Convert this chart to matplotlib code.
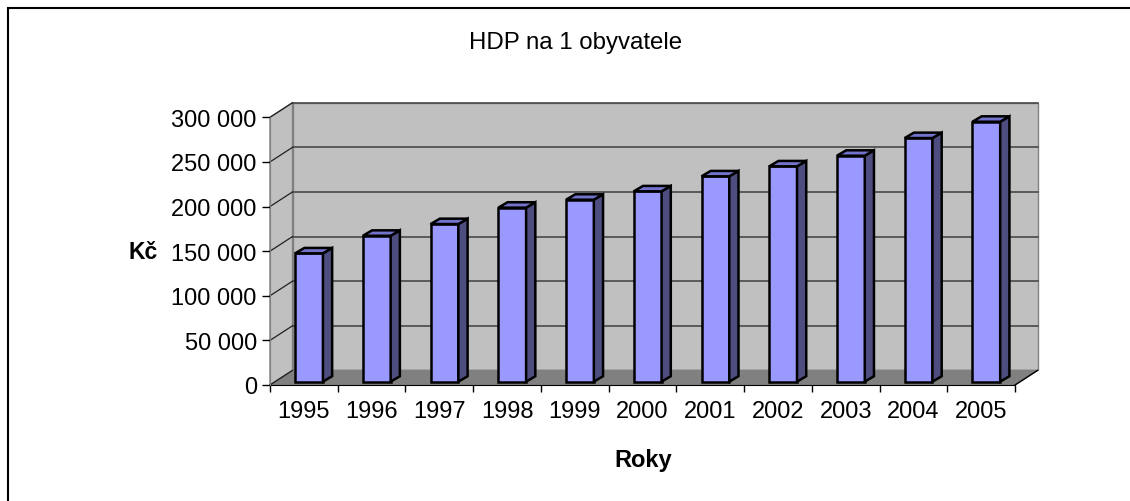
import numpy as np
import matplotlib
matplotlib.use("Agg")
import matplotlib.pyplot as plt
from matplotlib.patches import Polygon, Rectangle

# Data z grafu
roky = ['1995', '1996', '1997', '1998', '1999', '2000', '2001', '2002', '2003', '2004', '2005']
hdp = [143800, 163500, 176600, 195000, 203900, 213300, 230100, 241300, 253200, 273000, 291300]
ymax = 300000
krok = 50000

plt.rcParams['font.family'] = ['Liberation Sans', 'DejaVu Sans']

W, H = 1130, 502
fig = plt.figure(figsize=(W / 100, H / 100), dpi=100)

# prední rovina grafu v pixelech
x0, x1 = 270, 1015
y0, y1 = 386, 118.3
ax = fig.add_axes([x0 / W, (H - y0) / H, (x1 - x0) / W, (y0 - y1) / H])
n = len(roky)
ax.set_xlim(0, n)
ax.set_ylim(0, ymax)
ax.set_facecolor('none')

# hloubka (šikmá projekce) v jednotkach dat
ux = (x1 - x0) / n
uy = (y0 - y1) / ymax
dX = 22.5 / ux
dY = 14.6 / uy

stena = '#c0c0c0'
hrana = '#808080'

# zadni stena, bocni stena a podlaha
ax.add_patch(Rectangle((dX, dY), n, ymax, fc=stena, ec=hrana, lw=1, zorder=0, clip_on=False))
ax.add_patch(Polygon([(0, 0), (dX, dY), (dX, ymax + dY), (0, ymax)], closed=True,
                     fc=stena, ec=hrana, lw=1, zorder=0, clip_on=False))
ax.add_patch(Polygon([(0, 0), (n, 0), (n + dX, dY), (dX, dY)], closed=True,
                     fc='#808080', ec='#808080', lw=1, zorder=1, clip_on=False))
ax.plot([n, n + dX], [0, dY], color='black', lw=1, zorder=1, clip_on=False)

# mrizka
for v in np.arange(krok, ymax + 1, krok):
    ax.plot([dX, n + dX], [v + dY, v + dY], color='#4a4a4a', lw=1.2, zorder=1.5, clip_on=False)
for v in np.arange(0, ymax + 1, krok):
    ax.plot([0, dX], [v, v + dY], color='#202020', lw=0.9, zorder=1.5, clip_on=False)

# sloupce
f0 = 0.23
bdX = 0.41 * dX
bdY = 0.37 * dY
sirka = 0.41
pozice = np.arange(n) + 0.5 + f0 * dX
zaklad = f0 * dY
ax.bar(pozice, hdp, width=sirka, bottom=zaklad, color='#9999ff', edgecolor='black',
       linewidth=1.8, zorder=3, clip_on=False)
for xc, v in zip(pozice, hdp):
    l = xc - sirka / 2
    r = xc + sirka / 2
    t = zaklad + v
    ax.add_patch(Polygon([(r, zaklad), (r + bdX, zaklad + bdY), (r + bdX, t + bdY), (r, t)],
                         closed=True, fc='#4d4d80', ec='black', lw=1.8, zorder=3, clip_on=False))
    ax.add_patch(Polygon([(l, t), (r, t), (r + bdX, t + bdY), (l + bdX, t + bdY)],
                         closed=True, fc='#7373cc', ec='black', lw=1.8, zorder=3, clip_on=False))

# osy
ax.spines['top'].set_visible(False)
ax.spines['right'].set_visible(False)
ax.spines['left'].set_color('#808080')
ax.spines['bottom'].set_color('black')
ax.spines['bottom'].set_zorder(2)

yt = np.arange(0, ymax + 1, krok)
ax.set_yticks(yt)
ax.set_yticklabels([f'{v:,}'.replace(',', ' ') for v in yt])
ax.tick_params(axis='y', length=6, width=1, pad=3.5, labelsize=17, color='black')

ax.set_xticks(np.arange(n + 1))
ax.set_xticklabels([''] * (n + 1))
ax.set_xticks(np.arange(n) + 0.5, minor=True)
ax.set_xticklabels(roky, minor=True)
ax.tick_params(axis='x', which='major', length=5, width=1, color='black')
ax.tick_params(axis='x', which='minor', length=0, pad=11, labelsize=17)

# popisky
fig.text(576 / W, 1 - 49 / H, 'HDP na 1 obyvatele', ha='center', va='baseline', fontsize=17.3)
fig.text(143 / W, 1 - 259 / H, 'Kč', ha='center', va='baseline', fontsize=16.5, fontweight='bold')
fig.text(643 / W, 1 - 467 / H, 'Roky', ha='center', va='baseline', fontsize=17, fontweight='bold')

# ramecek kolem grafu
fig.add_artist(Rectangle((8 / W, -0.2), 2, 1.2 - 9 / H, transform=fig.transFigure,
                         fill=False, ec='black', lw=1.5))

fig.savefig('out.png', dpi=100)
